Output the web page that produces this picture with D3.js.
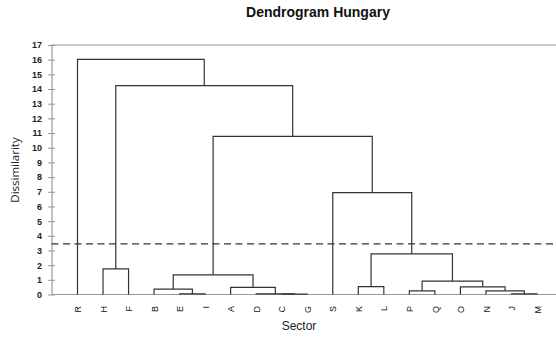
<!DOCTYPE html>
<html>
<head>
<meta charset="utf-8">
<script src="https://cdn.jsdelivr.net/npm/d3@7"></script>
<style>
  body { margin: 0; background: #fff; }
  svg { display: block; }
</style>
</head>
<body>
<svg id="chart" width="556" height="338"></svg>
<script>
// Leaf order along the x axis.
const leaves = ["R","H","F","B","E","I","A","D","C","G","S","K","L","P","Q","O","N","J","M"];

// Merges: [left child, right child, dissimilarity]. Clusters are named by joining their members.
const merges = [
  ["C", "G", 0.02],
  ["D", "CG", 0.04],
  ["E", "I", 0.04],
  ["J", "M", 0.04],
  ["N", "JM", 0.25],
  ["P", "Q", 0.25],
  ["B", "EI", 0.37],
  ["A", "DCG", 0.48],
  ["O", "NJM", 0.52],
  ["K", "L", 0.54],
  ["PQ", "ONJM", 0.91],
  ["BEI", "ADCG", 1.34],
  ["H", "F", 1.75],
  ["KL", "PQONJM", 2.77],
  ["S", "KLPQONJM", 6.94],
  ["BEIADCG", "SKLPQONJM", 10.78],
  ["HF", "BEIADCGSKLPQONJM", 14.23],
  ["R", "HFBEIADCGSKLPQONJM", 16.02]
];

const yTicks = d3.range(0, 18);
const cutHeight = 3.45;

const plotLeft = 51.5, plotRight = 556, plotTop = 45, plotBottom = 294.5;

const svg = d3.select("#chart");

const x = d3.scalePoint().domain(leaves).range([77.5, 537]);
const y = d3.scaleLinear().domain([0, 17]).range([plotBottom, plotTop]);

// Build positions of every cluster: leaves from the scale, merged nodes at the mean of their children.
const nodes = new Map();
leaves.forEach(l => nodes.set(l, {x: x(l), h: 0}));
merges.forEach(([a, b, h]) => {
  let na = nodes.get(a), nb = nodes.get(b);
  nodes.set(a + b, {x: (na.x + nb.x) / 2, h: h, a: na, b: nb});
});

// frame lines (top line and baseline)
svg.append("line")
  .attr("x1", plotLeft).attr("x2", plotRight).attr("y1", y(17)).attr("y2", y(17))
  .attr("stroke", "#999").attr("stroke-width", 1.2);
svg.append("line")
  .attr("x1", plotLeft).attr("x2", plotRight).attr("y1", y(0)).attr("y2", y(0))
  .attr("stroke", "#999").attr("stroke-width", 1.2);

// y axis
const yAxis = svg.append("g")
  .attr("transform", `translate(${plotLeft},0)`)
  .call(d3.axisLeft(y).tickValues(yTicks).tickSize(3.5).tickSizeOuter(0).tickPadding(6));
yAxis.select(".domain").attr("stroke", "#999").attr("stroke-width", 1.2);
yAxis.selectAll(".tick line").attr("stroke", "#999").attr("x1", 3.5);
yAxis.selectAll(".tick text")
  .attr("font-family", "Liberation Sans, Arial, sans-serif")
  .attr("font-size", 9).attr("font-weight", "bold").attr("fill", "#222");

// x axis labels (rotated)
const xAxis = svg.append("g")
  .attr("transform", `translate(0,${plotBottom})`)
  .call(d3.axisBottom(x).tickSize(0).tickPadding(0));
xAxis.select(".domain").remove();
xAxis.selectAll(".tick text")
  .attr("transform", "translate(0,11.5) rotate(-90)")
  .attr("dy", "0.35em").attr("x", 0).attr("y", 0)
  .attr("text-anchor", "end")
  .attr("font-family", "Liberation Sans, Arial, sans-serif")
  .attr("font-size", 9).attr("fill", "#111");

// dendrogram links
const links = svg.append("g")
  .attr("fill", "none").attr("stroke", "#333").attr("stroke-width", 1.2);
merges.forEach(([a, b]) => {
  const n = nodes.get(a + b);
  const path = d3.path();
  path.moveTo(n.a.x, y(n.a.h));
  path.lineTo(n.a.x, y(n.h));
  path.lineTo(n.b.x, y(n.h));
  path.lineTo(n.b.x, y(n.b.h));
  links.append("path").attr("d", path.toString());
});

// cut line
svg.append("line")
  .attr("x1", plotLeft).attr("x2", plotRight).attr("y1", y(cutHeight)).attr("y2", y(cutHeight))
  .attr("stroke", "#333").attr("stroke-width", 1.4).attr("stroke-dasharray", "7,4.5");

// title and axis titles
svg.append("text")
  .attr("x", 318).attr("y", 17)
  .attr("text-anchor", "middle")
  .attr("font-family", "Liberation Sans, Arial, sans-serif")
  .attr("font-size", 14).attr("font-weight", "bold").attr("fill", "#111")
  .text("Dendrogram Hungary");

svg.append("text")
  .attr("transform", `translate(19,170) rotate(-90)`)
  .attr("text-anchor", "middle")
  .attr("font-family", "Open Sans, sans-serif")
  .attr("font-size", 11.5).attr("fill", "#222")
  .text("Dissimilarity");

svg.append("text")
  .attr("x", 299).attr("y", 330)
  .attr("text-anchor", "middle")
  .attr("font-family", "Liberation Sans, Arial, sans-serif")
  .attr("font-size", 12).attr("fill", "#222")
  .text("Sector");
</script>
</body>
</html>
